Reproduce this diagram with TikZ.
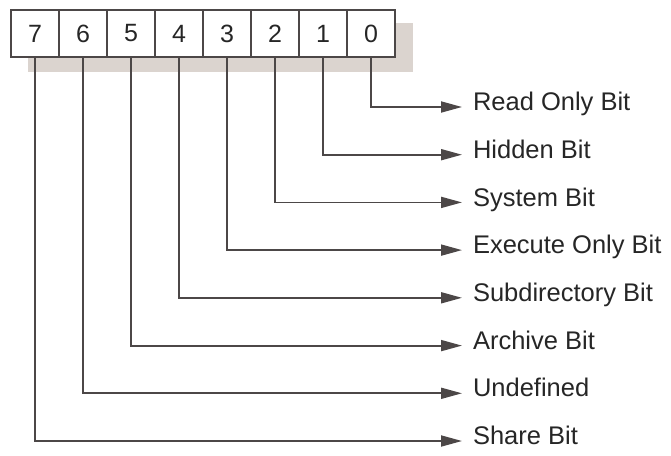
\documentclass[tikz,border=0pt]{standalone}
\usepackage{fontspec}
\setmainfont{Liberation Sans}
\usetikzlibrary{arrows.meta}
\usetikzlibrary{positioning}
\definecolor{linegray}{rgb}{0.30,0.28,0.28}
\definecolor{shadowgray}{rgb}{0.86,0.83,0.81}
\tikzset{bitcell/.style={draw=linegray, line width=1.5pt, fill=white, minimum width=48pt,
		minimum height=47pt, inner sep=0pt, outer sep=0pt, font=\fontsize{25}{30}\selectfont, text=black!85},
	bitname/.style={anchor=west, inner xsep=11pt, inner ysep=0pt, outer sep=0pt,
		text height=0.72em, text depth=0pt, font=\fontsize{25.5}{30}\selectfont, text=black!85},
	bitarrow/.style={draw=linegray, line width=1.8pt, -{Triangle[length=21pt, width=11pt]}}}

\begin{document}
\begin{tikzpicture}[x=1pt, y=-1pt]
	\useasboundingbox (0,0) rectangle (671,455);
	
	% shadow behind the register
	\fill[shadowgray] (28,23) rectangle (413,72);
	
	% register cells
	\node[bitcell] (c7) at (35,33.5) {7};
	\node[bitcell] (c6) at (83,33.5) {6};
	\node[bitcell] (c5) at (131,33.5) {5};
	\node[bitcell] (c4) at (179,33.5) {4};
	\node[bitcell] (c3) at (227,33.5) {3};
	\node[bitcell] (c2) at (275,33.5) {2};
	\node[bitcell] (c1) at (323,33.5) {1};
	\node[bitcell] (c0) at (371,33.5) {0};
	
	% attribute names
	\node[bitname] (n0) at (462,107) {Read Only Bit};
	\node[bitname] (n1) at (462,154.7) {Hidden Bit};
	\node[bitname] (n2) at (462,202.4) {System Bit};
	\node[bitname] (n3) at (462,250.1) {Execute Only Bit};
	\node[bitname] (n4) at (462,297.8) {Subdirectory Bit};
	\node[bitname] (n5) at (462,345.6) {Archive Bit};
	\node[bitname] (n6) at (462,393.3) {Undefined};
	\node[bitname] (n7) at (462,441) {Share Bit};
	
	% connectors
	\draw[bitarrow] (c0.south) |- (n0.west);
	\draw[bitarrow] (c1.south) |- (n1.west);
	\draw[bitarrow] (c2.south) |- (n2.west);
	\draw[bitarrow] (c3.south) |- (n3.west);
	\draw[bitarrow] (c4.south) |- (n4.west);
	\draw[bitarrow] (c5.south) |- (n5.west);
	\draw[bitarrow] (c6.south) |- (n6.west);
	\draw[bitarrow] (c7.south) |- (n7.west);
	
\end{tikzpicture}
\end{document}
